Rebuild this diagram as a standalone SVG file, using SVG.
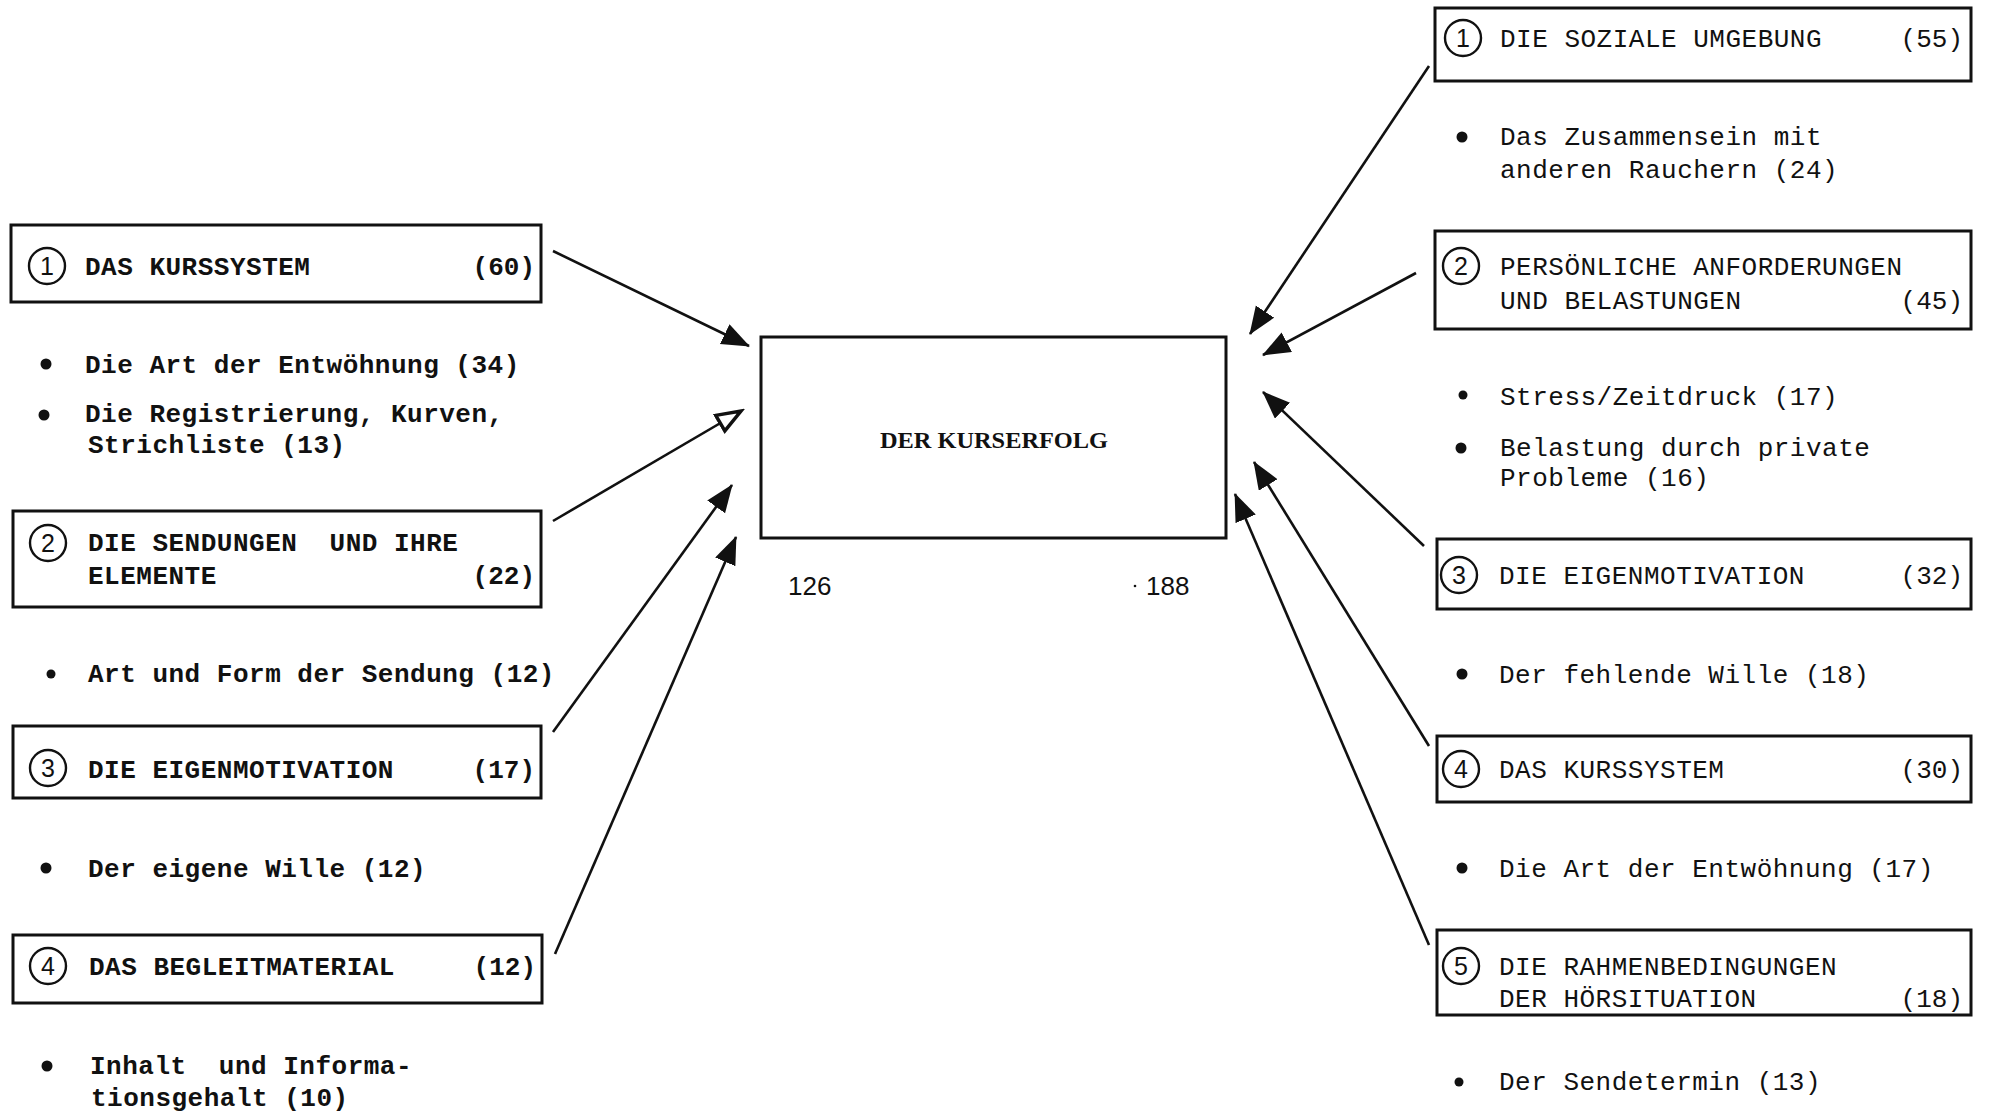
<svg xmlns="http://www.w3.org/2000/svg" width="1990" height="1113" viewBox="0 0 1990 1113" xml:space="preserve">
<defs>
<style>
.box{fill:none;stroke:#111;stroke-width:3}
.num{fill:none;stroke:#111;stroke-width:2.4}
.nt{font-family:"Liberation Sans",Arial,sans-serif;font-size:25px;fill:#111;text-anchor:middle}
.t{font-family:"Liberation Mono","DejaVu Sans Mono",monospace;font-size:26px;letter-spacing:0.5px;fill:#111;white-space:pre}
.l{font-weight:bold}
.r{font-weight:normal}
.e{text-anchor:end;letter-spacing:0}
.b{fill:#111}
.con line{stroke:#111;stroke-width:2.6}
.c{font-family:"Liberation Serif","Times New Roman",serif;font-size:24px;font-weight:bold;fill:#111}
.s{font-family:"Liberation Sans",Arial,sans-serif;font-size:26px;fill:#111}
</style>
<marker id="ah" markerUnits="userSpaceOnUse" markerWidth="30" markerHeight="24" refX="27" refY="11" orient="auto">
<path d="M0,0 L28,11 L0,22 z" fill="#111"/>
</marker>
<marker id="aho" markerUnits="userSpaceOnUse" markerWidth="30" markerHeight="24" refX="26" refY="11" orient="auto">
<path d="M2,2 L26,11 L2,20 z" fill="#fff" stroke="#111" stroke-width="3.5"/>
</marker>
</defs>
<rect width="1990" height="1113" fill="#fff"/>

<g id="center">
<rect class="box" x="761" y="337" width="465" height="201"/>
<text class="c" x="994" y="448" text-anchor="middle" textLength="228" lengthAdjust="spacingAndGlyphs">DER KURSERFOLG</text>
<text class="s" x="788" y="595">126</text>
<text class="s" x="1146" y="595">188</text>
<circle cx="1135" cy="586" r="1.3" fill="#111"/>
</g>

<g id="L1">
<rect class="box" x="11" y="225" width="530" height="77"/>
<circle class="num" cx="47" cy="266" r="18"/><text class="nt" x="47" y="275">1</text>
<text class="t l" x="85" y="275">DAS KURSSYSTEM</text>
<text class="t l e" x="535" y="275">(60)</text>
<circle class="b" cx="46" cy="364" r="5.5"/>
<text class="t l" x="85" y="373">Die Art der Entwöhnung (34)</text>
<circle class="b" cx="44" cy="415" r="5.5"/>
<text class="t l" x="85" y="422">Die Registrierung, Kurven,</text>
<text class="t l" x="88" y="453">Strichliste (13)</text>
</g>

<g id="L2">
<rect class="box" x="13" y="511" width="528" height="96"/>
<circle class="num" cx="48" cy="543" r="18"/><text class="nt" x="48" y="552">2</text>
<text class="t l" x="88" y="551">DIE SENDUNGEN  UND IHRE</text>
<text class="t l" x="88" y="584">ELEMENTE</text>
<text class="t l e" x="535" y="584">(22)</text>
<circle class="b" cx="51" cy="674" r="4.5"/>
<text class="t l" x="88" y="682">Art und Form der Sendung (12)</text>
</g>

<g id="L3">
<rect class="box" x="13" y="726" width="528" height="72"/>
<circle class="num" cx="48" cy="768" r="18"/><text class="nt" x="48" y="777">3</text>
<text class="t l" x="88" y="778">DIE EIGENMOTIVATION</text>
<text class="t l e" x="535" y="778">(17)</text>
<circle class="b" cx="46" cy="868" r="5.5"/>
<text class="t l" x="88" y="877">Der eigene Wille (12)</text>
</g>

<g id="L4">
<rect class="box" x="13" y="935" width="529" height="68"/>
<circle class="num" cx="48" cy="966" r="18"/><text class="nt" x="48" y="975">4</text>
<text class="t l" x="89" y="975">DAS BEGLEITMATERIAL</text>
<text class="t l e" x="536" y="975">(12)</text>
<circle class="b" cx="47" cy="1066" r="5.5"/>
<text class="t l" x="90" y="1074">Inhalt  und Informa-</text>
<text class="t l" x="91" y="1106">tionsgehalt (10)</text>
</g>

<g id="R1">
<rect class="box" x="1435" y="8" width="536" height="73"/>
<circle class="num" cx="1463" cy="38" r="18"/><text class="nt" x="1463" y="47">1</text>
<text class="t r" x="1500" y="47">DIE SOZIALE UMGEBUNG</text>
<text class="t r e" x="1963" y="47">(55)</text>
<circle class="b" cx="1462" cy="137" r="5.5"/>
<text class="t r" x="1500" y="145">Das Zusammensein mit</text>
<text class="t r" x="1500" y="178">anderen Rauchern (24)</text>
</g>

<g id="R2">
<rect class="box" x="1435" y="231" width="536" height="98"/>
<circle class="num" cx="1461" cy="266" r="18"/><text class="nt" x="1461" y="275">2</text>
<text class="t r" x="1500" y="275">PERSÖNLICHE ANFORDERUNGEN</text>
<text class="t r" x="1500" y="309">UND BELASTUNGEN</text>
<text class="t r e" x="1963" y="309">(45)</text>
<circle class="b" cx="1463" cy="395" r="4.5"/>
<text class="t r" x="1500" y="405">Stress/Zeitdruck (17)</text>
<circle class="b" cx="1461" cy="448" r="5.5"/>
<text class="t r" x="1500" y="456">Belastung durch private</text>
<text class="t r" x="1500" y="486">Probleme (16)</text>
</g>

<g id="R3">
<rect class="box" x="1437" y="539" width="534" height="70"/>
<circle class="num" cx="1459" cy="575" r="18"/><text class="nt" x="1459" y="584">3</text>
<text class="t r" x="1499" y="584">DIE EIGENMOTIVATION</text>
<text class="t r e" x="1963" y="584">(32)</text>
<circle class="b" cx="1462" cy="674" r="5.5"/>
<text class="t r" x="1499" y="683">Der fehlende Wille (18)</text>
</g>

<g id="R4">
<rect class="box" x="1437" y="736" width="534" height="66"/>
<circle class="num" cx="1461" cy="769" r="18"/><text class="nt" x="1461" y="778">4</text>
<text class="t r" x="1499" y="778">DAS KURSSYSTEM</text>
<text class="t r e" x="1963" y="778">(30)</text>
<circle class="b" cx="1462" cy="868" r="5.5"/>
<text class="t r" x="1499" y="877">Die Art der Entwöhnung (17)</text>
</g>

<g id="R5">
<rect class="box" x="1437" y="930" width="534" height="85"/>
<circle class="num" cx="1461" cy="966" r="18"/><text class="nt" x="1461" y="975">5</text>
<text class="t r" x="1499" y="975">DIE RAHMENBEDINGUNGEN</text>
<text class="t r" x="1499" y="1007">DER HÖRSITUATION</text>
<text class="t r e" x="1963" y="1007">(18)</text>
<circle class="b" cx="1459" cy="1082" r="4.5"/>
<text class="t r" x="1499" y="1090">Der Sendetermin (13)</text>
</g>

<g id="connectors" class="con">
<line x1="553" y1="251" x2="749" y2="346" marker-end="url(#ah)"/>
<line x1="553" y1="521" x2="741" y2="411" marker-end="url(#aho)"/>
<line x1="553" y1="732" x2="732" y2="485" marker-end="url(#ah)"/>
<line x1="555" y1="954" x2="736" y2="537" marker-end="url(#ah)"/>
<line x1="1429" y1="66" x2="1250" y2="334" marker-end="url(#ah)"/>
<line x1="1416" y1="273" x2="1263" y2="355" marker-end="url(#ah)"/>
<line x1="1424" y1="546" x2="1263" y2="392" marker-end="url(#ah)"/>
<line x1="1429" y1="746" x2="1254" y2="462" marker-end="url(#ah)"/>
<line x1="1429" y1="945" x2="1235" y2="494" marker-end="url(#ah)"/>
</g>
</svg>
